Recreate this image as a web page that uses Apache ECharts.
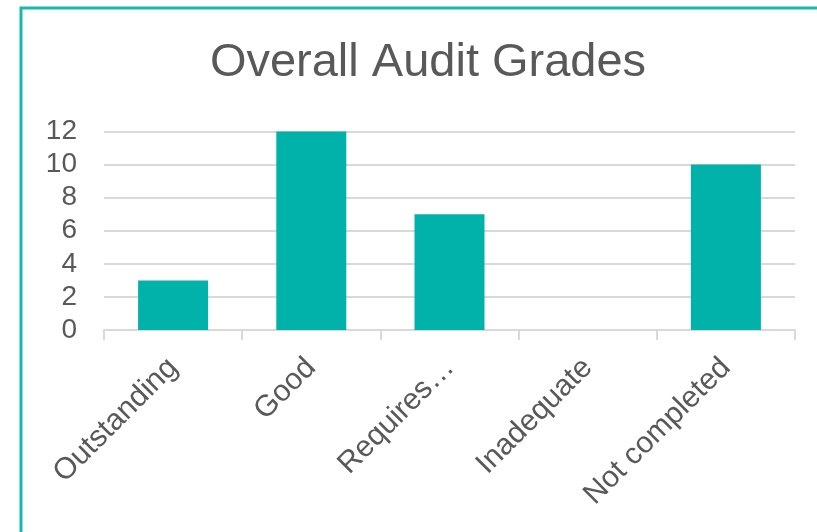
<!DOCTYPE html>
<html>
<head>
<meta charset="utf-8">
<script src="https://cdn.jsdelivr.net/npm/echarts@6/dist/echarts.min.js"></script>
<style>
  html, body { margin: 0; padding: 0; background: #fff; }
  #auditChart { width: 817px; height: 532px; }
</style>
</head>
<body>
<div id="auditChart"></div>
<script>
var grades = ['Outstanding', 'Good', 'Requires…', 'Inadequate', 'Not completed'];
var gradeCounts = [3, 12, 7, 0, 10];
var yTicks = [0, 2, 4, 6, 8, 10, 12];

var auditChart = echarts.init(document.getElementById('auditChart'));
var textGrey = '#595959';
var lineGrey = '#d9d9d9';

option = {
  animation: false,
  textStyle: { fontFamily: 'Liberation Sans, Arial, sans-serif' },
  title: {
    text: 'Overall Audit Grades',
    left: 423,
    textAlign: 'center',
    top: 35,
    textStyle: { fontSize: 47, fontWeight: 'normal', color: textGrey, fontFamily: 'Liberation Sans' }
  },
  graphic: [{
    type: 'rect',
    shape: { x: 21, y: 8, width: 900, height: 700 },
    style: { fill: 'none', stroke: '#17b9ae', lineWidth: 3 },
    silent: true
  }],
  grid: { left: 104, right: 22, top: 131.5, bottom: 202, containLabel: false },
  xAxis: {
    type: 'category',
    data: grades,
    axisLine: { lineStyle: { color: lineGrey, width: 2 } },
    axisTick: { show: true, length: 10, lineStyle: { color: lineGrey, width: 2 } },
    axisLabel: {
      rotate: 45,
      interval: 0,
      margin: 33,
      align: 'right',
      verticalAlign: 'middle',
      fontSize: 30,
      color: textGrey,
      fontFamily: 'Liberation Sans'
    }
  },
  yAxis: {
    type: 'value',
    min: yTicks[0],
    max: yTicks[yTicks.length - 1],
    interval: 2,
    axisLine: { show: false },
    axisTick: { show: false },
    splitLine: { lineStyle: { color: lineGrey, width: 2 } },
    axisLabel: { fontSize: 28, color: textGrey, margin: 27, fontFamily: 'Liberation Sans' }
  },
  series: [{
    name: 'Grades',
    type: 'bar',
    data: gradeCounts,
    barWidth: 70,
    itemStyle: { color: '#00b2aa' }
  }]
};
auditChart.setOption(option);
</script>
</body>
</html>
